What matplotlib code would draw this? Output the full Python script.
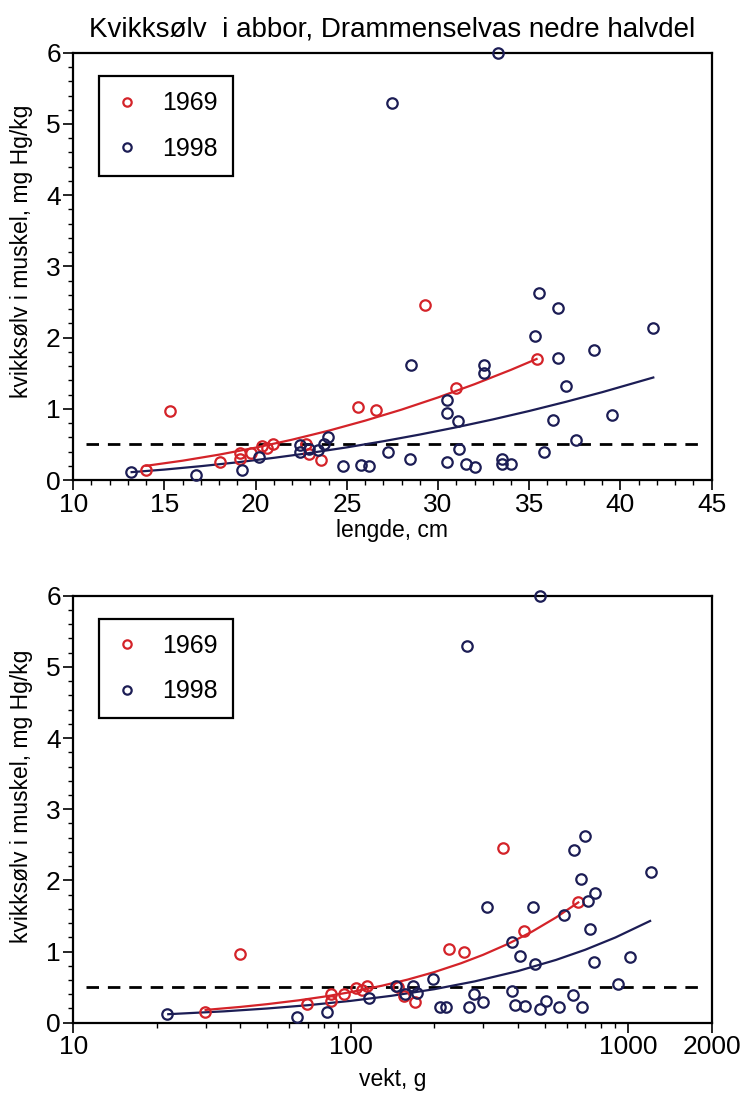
import matplotlib
matplotlib.use("Agg")
import matplotlib.pyplot as plt
from matplotlib.ticker import MultipleLocator, LogLocator, NullFormatter
import numpy as np

plt.rcParams["font.family"] = ["Liberation Sans", "DejaVu Sans"]

# 1969, length (cm) and Hg (mg/kg)
red_len = [14.0, 15.3, 18.07, 19.14, 19.14, 19.77, 20.35, 20.64, 20.97, 22.75, 22.95,
           23.57, 25.6, 26.59, 29.29, 30.96, 35.45]
red_hg_len = [0.14, 0.97, 0.26, 0.38, 0.30, 0.38, 0.48, 0.45, 0.51, 0.50, 0.37,
              0.28, 1.02, 0.98, 2.46, 1.29, 1.70]

# 1998, length (cm) and Hg (mg/kg)
blue_len = [13.15, 16.73, 19.25, 20.19, 22.45, 22.45, 22.95, 23.44, 23.77, 23.95,
            24.78, 25.77, 26.19, 27.28, 27.5, 33.26, 28.5, 32.53, 32.53, 30.5,
            30.5, 31.1, 35.55, 36.55, 35.33, 36.55, 38.53, 41.8, 37.04, 36.31,
            39.51, 37.54, 28.47, 30.48, 31.17, 31.52, 32.0, 33.53, 33.53, 34.01, 35.82]
blue_hg_len = [0.11, 0.07, 0.14, 0.33, 0.49, 0.40, 0.44, 0.42, 0.51, 0.60,
               0.20, 0.21, 0.20, 0.40, 5.30, 6.0, 1.62, 1.62, 1.51, 1.12,
               0.94, 0.83, 2.62, 2.42, 2.02, 1.72, 1.83, 2.13, 1.32, 0.85,
               0.91, 0.56, 0.29, 0.25, 0.44, 0.22, 0.19, 0.30, 0.22, 0.22, 0.39]

# 1969, weight (g)
red_w = [29.9, 39.9, 69.7, 84.6, 84.6, 94.5, 104.2, 109.5, 114.7, 148, 155.5,
         169.9, 225.4, 255.8, 352.7, 422, 661]
red_hg_w = [0.15, 0.97, 0.27, 0.40, 0.31, 0.40, 0.49, 0.46, 0.52, 0.50, 0.38,
            0.29, 1.03, 0.99, 2.45, 1.29, 1.69]

# 1998, weight (g)
blue_w = [21.8, 63.8, 82.1, 116.3, 145.5, 263, 482, 156.8, 168, 172.8, 198.3,
          209, 220, 266.7, 277.9, 301, 309.6, 381, 407, 462, 455, 380, 391,
          426, 481, 504, 564, 635, 682, 588, 638, 699, 676, 714, 761, 727, 754,
          1016, 920, 1208]
blue_hg_w = [0.12, 0.085, 0.15, 0.35, 0.51, 5.30, 6.0, 0.41, 0.51, 0.42, 0.61,
             0.22, 0.22, 0.22, 0.40, 0.29, 1.62, 1.14, 0.94, 0.82, 1.62, 0.44, 0.25,
             0.24, 0.19, 0.31, 0.22, 0.39, 0.22, 1.52, 2.42, 2.62, 2.02, 1.71, 1.82,
             1.32, 0.86, 0.92, 0.55, 2.12]

# fitted curves
red_fit_len_x = [14, 16, 18, 20, 22, 24, 26, 28, 30, 32, 34, 35.4]
red_fit_len_y = [0.20, 0.272, 0.357, 0.455, 0.567, 0.693, 0.834, 0.989, 1.160,
                 1.346, 1.548, 1.70]
blue_fit_len_x = [13.2, 15, 17, 19, 21, 23, 25, 27, 29, 31, 33, 35, 37, 39, 41.8]
blue_fit_len_y = [0.111, 0.147, 0.195, 0.249, 0.312, 0.381, 0.459, 0.545, 0.639,
                  0.741, 0.851, 0.970, 1.098, 1.234, 1.44]
red_fit_w_x = [30, 40, 50, 65, 80, 100, 130, 160, 200, 250, 300, 370, 450, 550, 661]
red_fit_w_y = [0.18, 0.222, 0.261, 0.315, 0.366, 0.430, 0.521, 0.605, 0.711,
               0.836, 0.954, 1.110, 1.279, 1.480, 1.69]
blue_fit_w_x = [22, 35, 50, 70, 100, 140, 200, 280, 400, 550, 700, 900, 1200]
blue_fit_w_y = [0.12, 0.160, 0.20, 0.246, 0.307, 0.378, 0.471, 0.581, 0.725,
                0.883, 1.025, 1.198, 1.43]

limit = 0.5
RED = "#d42329"
BLUE = "#1c1d55"

fig = plt.figure(figsize=(7.4, 10.95), dpi=100)
ax1 = fig.add_axes([0.099, 0.5616, 0.8627, 0.3902])
ax2 = fig.add_axes([0.099, 0.066, 0.8627, 0.390])


def draw(ax, rx, ry, bx, by, rfx, rfy, bfx, bfy, ylab_y):
    ax.plot(bfx, bfy, color=BLUE, lw=1.6, zorder=2)
    ax.plot(rfx, rfy, color=RED, lw=1.6, zorder=2)
    ax.axhline(limit, xmin=0.02, xmax=0.99, color="black", lw=2,
               dashes=(4.5, 3.2), zorder=1)
    ax.plot(rx, ry, "o", mfc="none", mec=RED, ms=7.5, mew=1.6, ls="none",
            label="1969", zorder=3, clip_on=False)
    ax.plot(bx, by, "o", mfc="none", mec=BLUE, ms=7.5, mew=1.6, ls="none",
            label="1998", zorder=3, clip_on=False)
    ax.set_ylim(0, 6)
    ax.yaxis.set_major_locator(MultipleLocator(1))
    ax.yaxis.set_minor_locator(MultipleLocator(0.2))
    for s in ax.spines.values():
        s.set_linewidth(1.6)
    ax.tick_params(which="major", direction="out", length=7, width=1.2,
                   labelsize=19, pad=2, top=False, right=False)
    ax.tick_params(which="minor", direction="out", length=3.5, width=1.0,
                   top=False, right=False)
    ax.set_ylabel("kvikksølv i muskel, mg Hg/kg", fontsize=16.5)
    ax.yaxis.set_label_coords(-0.063, ylab_y)
    leg = ax.legend(loc="upper left", bbox_to_anchor=(0.041, 0.945),
                    fontsize=18, frameon=True, fancybox=False, framealpha=1,
                    edgecolor="black", borderaxespad=0, markerscale=0.8,
                    handlelength=1.0, handletextpad=0.9, labelspacing=0.85,
                    borderpad=0.6)
    leg.get_frame().set_linewidth(1.6)


draw(ax1, red_len, red_hg_len, blue_len, blue_hg_len,
     red_fit_len_x, red_fit_len_y, blue_fit_len_x, blue_fit_len_y, 0.535)
ax1.set_xlim(10, 45)
ax1.xaxis.set_major_locator(MultipleLocator(5))
ax1.xaxis.set_minor_locator(MultipleLocator(1))
ax1.set_xlabel("lengde, cm", fontsize=16.5, labelpad=2)
ax1.set_title("Kvikksølv  i abbor, Drammenselvas nedre halvdel", fontsize=20, pad=12)

draw(ax2, red_w, red_hg_w, blue_w, blue_hg_w,
     red_fit_w_x, red_fit_w_y, blue_fit_w_x, blue_fit_w_y, 0.53)
ax2.set_xscale("log")
ax2.set_xlim(10, 2000)
ax2.set_xticks([10, 100, 1000, 2000], ["10", "100", "1000", "2000"])
ax2.xaxis.set_minor_locator(LogLocator(base=10, subs=np.arange(2, 10)))
ax2.xaxis.set_minor_formatter(NullFormatter())
ax2.set_xlabel("vekt, g", fontsize=16.5, labelpad=6)

fig.savefig("out.png", dpi=100)
